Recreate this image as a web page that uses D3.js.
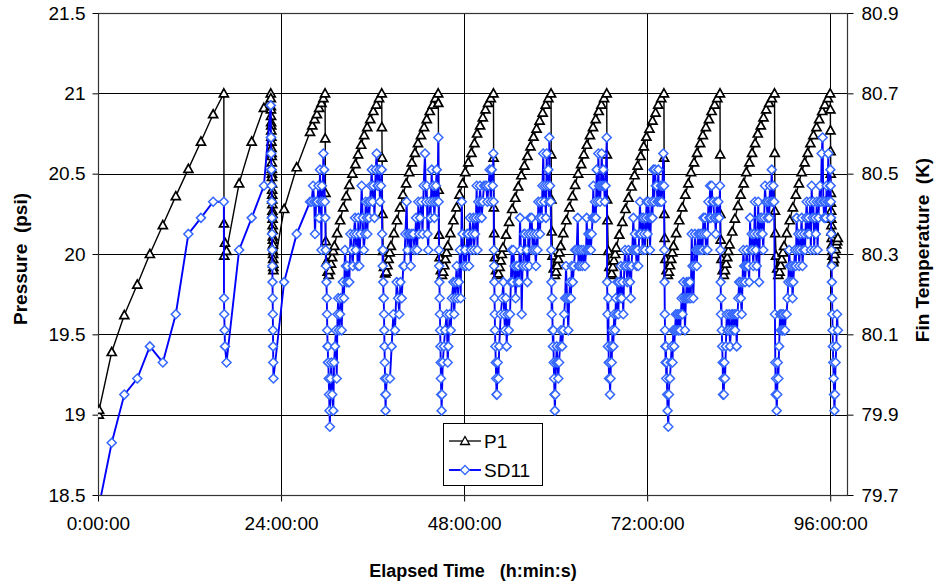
<!DOCTYPE html>
<html>
<head>
<meta charset="utf-8">
<script src="https://cdn.jsdelivr.net/npm/d3@7"></script>
<style>
  body { margin: 0; background: #fff; }
  text { font-family: "Liberation Sans", Arial, sans-serif; }
</style>
</head>
<body>
<svg id="chart" width="935" height="584"></svg>
<script>
// axis ticks
const xTicks = [0, 24, 48, 72, 96];
const xTickLabels = ["0:00:00", "24:00:00", "48:00:00", "72:00:00", "96:00:00"];
const pressureTicks = [18.5, 19, 19.5, 20, 20.5, 21, 21.5];
const tempTicks = [79.7, 79.9, 80.1, 80.3, 80.5, 80.7, 80.9];

// P1 pressure (psi), pairs of [elapsed hours, value]
const p1Run1 = [[0.1,19.0],[0.15,19.03],[1.8,19.39],[3.45,19.62],[5.15,19.81],[6.8,20.0],[8.5,20.18],[10.2,20.36],[11.85,20.53],[13.5,20.7],[15.1,20.87],[16.5,21.0]];
const p1Run2 = [[16.52,20.19],[16.55,19.99],[16.65,20.07],[16.85,20.02],[18.5,20.44],[20.15,20.7],[21.75,20.91],[22.65,21.0],
  [22.66,20.97],[22.67,20.92],[22.68,20.9],[22.69,20.86],[22.7,20.82],[22.71,20.8],[22.72,20.77],[22.73,20.73],[22.74,20.7],[22.75,20.66],[22.76,20.63],[22.77,20.61],[22.78,20.57],[22.79,20.53],[22.8,20.5],[22.81,20.48],[22.82,20.44],[22.83,20.4],[22.84,20.37],[22.85,20.34],[22.86,20.31],[22.87,20.27],[22.88,20.25],[22.89,20.22],[22.9,20.18],[22.91,20.15],[22.92,20.11],[22.93,20.09],[22.94,20.06],[22.95,20.02],[22.96,20.0],[22.97,19.97],[22.98,19.94],[22.99,19.92],[23.0,19.9]];
const p1Run3 = [[24.4,20.28],[26.05,20.54],[27.8,20.76],[28.1,20.8],[28.4,20.84],[28.7,20.87],[29.0,20.91],[29.3,20.94],[29.55,20.97],[29.77,21.0]];
const p1Run4 = [[29.79,20.72],[29.82,20.38],[29.86,20.08],[29.95,19.95],[30.1,19.89],[30.25,19.87],[30.4,19.9],[30.55,19.94],[30.7,19.98],[30.85,20.02],[31.0,20.05],
  [31.35,20.13],[31.75,20.21],[32.15,20.29],[32.55,20.36],[32.95,20.43],[33.35,20.5],[33.75,20.56],[34.1,20.62],[34.5,20.68],[34.9,20.74],[35.3,20.79],[35.7,20.84],[36.1,20.89],[36.5,20.93],[36.85,20.97],[37.2,21.0]];
const p1Run5 = [[37.22,20.79],[37.25,20.6],[37.3,20.25],[37.38,20.02],[37.5,19.92],[37.65,19.88],[37.8,19.89],[37.95,19.93],[38.1,19.97],[38.25,20.01],[38.4,20.05],
  [38.8,20.13],[39.2,20.21],[39.6,20.29],[40.0,20.37],[40.4,20.44],[40.8,20.51],[41.15,20.57],[41.55,20.63],[41.95,20.69],[42.35,20.74],[42.75,20.79],[43.1,20.84],[43.5,20.89],[43.9,20.93],[44.25,20.97],[44.6,21.0]];
const p1Run6 = [[44.62,20.94],[44.66,20.4],[44.72,20.12],[44.8,19.98],[44.95,19.9],[45.1,19.87],[45.25,19.89],[45.4,19.93],[45.55,19.97],[45.7,20.01],[45.85,20.05],
  [46.2,20.13],[46.6,20.21],[47.0,20.29],[47.4,20.37],[47.8,20.44],[48.15,20.51],[48.55,20.57],[48.95,20.63],[49.35,20.69],[49.7,20.75],[50.1,20.8],[50.45,20.85],[50.8,20.9],[51.15,20.94],[51.5,20.97],[51.85,21.0]];
const p1Run7 = [[51.87,20.6],[51.9,20.29],[51.95,20.13],[52.05,19.98],[52.2,19.9],[52.35,19.87],[52.5,19.88],[52.65,19.92],[52.8,19.96],[52.95,20.0],[53.1,20.04],
  [53.5,20.12],[53.9,20.2],[54.3,20.28],[54.7,20.35],[55.1,20.42],[55.5,20.49],[55.9,20.55],[56.3,20.61],[56.7,20.67],[57.1,20.73],[57.5,20.78],[57.9,20.83],[58.3,20.88],[58.7,20.93],[59.05,20.97],[59.4,21.0]];
const p1Run8 = [[59.42,20.62],[59.45,20.34],[59.5,20.14],[59.6,19.99],[59.75,19.91],[59.9,19.87],[60.05,19.89],[60.2,19.93],[60.35,19.97],[60.5,20.01],[60.65,20.05],
  [61.0,20.13],[61.4,20.21],[61.8,20.29],[62.2,20.36],[62.55,20.43],[62.95,20.5],[63.35,20.56],[63.7,20.62],[64.1,20.68],[64.5,20.74],[64.9,20.79],[65.25,20.84],[65.65,20.89],[66.0,20.93],[66.35,20.97],[66.7,21.0]];
const p1Run9 = [[66.72,20.62],[66.75,20.34],[66.8,20.21],[66.9,20.02],[67.05,19.92],[67.2,19.87],[67.35,19.88],[67.5,19.92],[67.65,19.96],[67.8,20.0],[67.95,20.04],
  [68.35,20.12],[68.75,20.2],[69.15,20.28],[69.55,20.35],[69.95,20.42],[70.35,20.49],[70.75,20.55],[71.15,20.61],[71.55,20.67],[71.9,20.73],[72.3,20.78],[72.7,20.83],[73.1,20.88],[73.45,20.93],[73.85,20.97],[74.2,21.0]];
const p1Run10 = [[74.22,20.6],[74.25,20.25],[74.3,20.1],[74.4,19.97],[74.55,19.9],[74.7,19.87],[74.85,19.89],[75.0,19.93],[75.15,19.97],[75.3,20.01],[75.45,20.05],
  [75.8,20.13],[76.2,20.21],[76.6,20.29],[77.0,20.37],[77.4,20.44],[77.75,20.51],[78.15,20.57],[78.55,20.63],[78.95,20.69],[79.3,20.74],[79.7,20.79],[80.1,20.84],[80.45,20.89],[80.85,20.93],[81.2,20.97],[81.55,21.0]];
const p1Run11 = [[81.57,20.62],[81.6,20.25],[81.65,20.09],[81.75,19.97],[81.9,19.9],[82.05,19.87],[82.2,19.9],[82.35,19.94],[82.5,19.98],[82.65,20.02],[82.8,20.06],
  [83.15,20.14],[83.5,20.22],[83.9,20.3],[84.25,20.37],[84.65,20.44],[85.0,20.51],[85.4,20.57],[85.75,20.63],[86.15,20.69],[86.5,20.75],[86.9,20.8],[87.25,20.85],[87.6,20.9],[88.0,20.94],[88.35,20.97],[88.7,21.0]];
const p1Run12 = [[88.72,20.63],[88.75,20.27],[88.8,20.13],[88.9,19.99],[89.05,19.91],[89.2,19.87],[89.35,19.89],[89.5,19.93],[89.65,19.97],[89.8,20.01],[89.95,20.05],
  [90.3,20.13],[90.7,20.21],[91.1,20.29],[91.5,20.37],[91.9,20.44],[92.25,20.51],[92.65,20.57],[93.05,20.63],[93.4,20.69],[93.8,20.74],[94.2,20.79],[94.55,20.84],[94.95,20.89],[95.3,20.93],[95.7,20.97],[96.0,21.0]];
const p1Run13 = [[96.02,20.9],[96.03,20.77],[96.05,20.64],[96.07,20.5],[96.09,20.38],[96.1,20.32],[96.12,20.27],[96.14,20.22],[96.16,20.18],[96.18,20.14],[96.2,20.1],[96.23,20.06],[96.26,20.02],[96.3,19.99],[96.34,19.96],[96.4,19.95],[96.5,19.97],[96.6,20.0],[96.7,20.03],[96.8,20.06],[96.9,20.08],[97.0,20.1]];

// SD11 fin temperature (K), pairs of [elapsed hours, value]
const sdRun1 = [[0.1,79.67],[1.8,79.83],[3.45,79.95],[5.15,79.99],[6.8,80.07],[8.5,80.03],[10.2,80.15],[11.85,80.35],[13.5,80.39],[15.1,80.43],[16.5,80.43]];
const sdRun2 = [[16.52,80.19],[16.55,80.15],[16.6,80.11],[16.65,80.07],[16.85,80.03],[18.5,80.31],[20.15,80.39],[21.75,80.47],[22.65,80.67],
  [22.67,80.59],[22.69,80.59],[22.7,80.55],[22.72,80.51],[22.74,80.51],[22.76,80.47],[22.78,80.43],[22.8,80.39],[22.82,80.35],[22.84,80.31],[22.86,80.27],[22.88,80.23],[22.9,80.19],[22.92,80.15],[22.94,80.11],[22.96,80.07],[22.98,80.03],[23.0,79.99]];
const sdRun3 = [[24.4,80.23],[26.05,80.35],[27.8,80.43],[28.0,80.43],[28.2,80.47],[28.35,80.43],[28.45,80.35],[28.6,80.43],[28.75,80.43],[28.9,80.47],[29.0,80.39],[29.1,80.51],[29.2,80.43],[29.3,80.31],[29.35,80.47],[29.45,80.43],[29.55,80.55],[29.65,80.51],[29.75,80.43]];
const sdRun4 = [[29.8,80.39],[29.85,80.31],[29.9,80.27],[29.95,80.23],[30.0,80.19],[30.03,80.15],[30.06,80.11],[30.1,80.07],[30.13,80.07],[30.16,80.03],[30.2,80.03],[30.25,79.99],[30.3,79.95],[30.35,79.91],[30.4,79.87],[30.5,79.99],[30.6,80.03],[30.7,79.95],[30.85,79.91],[30.95,80.03],[31.07,80.07],[31.2,80.11],[31.3,79.99],[31.4,80.15],[31.5,80.19],[31.6,80.11],[31.73,80.15],[31.85,80.19],[31.95,80.11],[32.1,80.23],[32.25,80.19],[32.38,80.31],[32.5,80.27],[32.61,80.23],[32.7,80.27],[32.82,80.23],[32.95,80.23],[33.1,80.35],[33.26,80.31],[33.4,80.27],[33.55,80.35],[33.7,80.39],[33.8,80.31],[33.92,80.35],[34.05,80.27],[34.13,80.39],[34.26,80.27],[34.4,80.35],[34.57,80.47],[34.7,80.39],[34.85,80.31],[35.0,80.35],[35.1,80.43],[35.23,80.39],[35.31,80.35],[35.45,80.43],[35.55,80.39],[35.66,80.43],[35.78,80.47],[35.89,80.51],[36.0,80.43],[36.1,80.47],[36.25,80.39],[36.4,80.51],[36.54,80.55],[36.65,80.47],[36.75,80.47],[36.85,80.51],[36.97,80.43],[37.1,80.47],[37.2,80.51]];
const sdRun5 = [[37.25,80.35],[37.3,80.31],[37.33,80.27],[37.36,80.31],[37.4,80.23],[37.43,80.19],[37.46,80.19],[37.5,80.15],[37.53,80.11],[37.56,80.07],[37.6,80.03],[37.63,79.99],[37.67,79.95],[37.7,79.91],[37.75,79.95],[37.85,79.99],
  [38.28,79.99],[38.5,80.07],[38.72,80.15],[38.94,80.11],[39.16,80.23],[39.35,80.19],[39.5,80.15],[39.65,80.23],[39.82,80.19],[40.03,80.27],[40.15,80.27],[40.3,80.35],[40.47,80.43],[40.58,80.31],[40.68,80.35],[40.85,80.35],[41.0,80.27],[41.15,80.35],[41.34,80.35],[41.5,80.31],[41.7,80.39],[41.85,80.31],[42.0,80.43],[42.1,80.35],[42.22,80.39],[42.4,80.43],[42.55,80.35],[42.7,80.47],[42.87,80.55],[43.0,80.43],[43.1,80.47],[43.2,80.35],[43.3,80.31],[43.45,80.43],[43.6,80.39],[43.75,80.51],[43.85,80.43],[43.96,80.47],[44.1,80.39],[44.19,80.43],[44.3,80.47],[44.41,80.51],[44.5,80.43],[44.62,80.59]];
const sdRun6 = [[44.66,80.43],[44.7,80.31],[44.73,80.27],[44.76,80.23],[44.8,80.19],[44.83,80.15],[44.86,80.11],[44.9,80.07],[44.93,80.03],[44.96,79.99],[45.0,79.95],[45.05,79.91],[45.1,79.95],[45.2,80.03],
  [45.35,80.07],[45.5,80.11],[45.72,80.15],[45.85,80.03],[45.93,80.07],[46.1,80.15],[46.25,80.11],[46.4,80.19],[46.59,80.23],[46.7,80.15],[46.8,80.19],[46.9,80.23],[47.03,80.27],[47.15,80.19],[47.3,80.23],[47.45,80.31],[47.55,80.19],[47.69,80.43],[47.8,80.35],[47.95,80.27],[48.12,80.31],[48.25,80.27],[48.4,80.35],[48.55,80.35],[48.65,80.27],[48.77,80.39],[48.9,80.31],[49.05,80.35],[49.21,80.39],[49.3,80.31],[49.43,80.35],[49.55,80.39],[49.65,80.47],[49.75,80.31],[49.86,80.43],[49.97,80.39],[50.08,80.47],[50.2,80.43],[50.31,80.39],[50.45,80.43],[50.6,80.47],[50.75,80.47],[50.9,80.47],[51.05,80.43],[51.2,80.47],[51.35,80.51],[51.5,80.43],[51.62,80.51],[51.75,80.47],[51.83,80.55]];
const sdRun7 = [[51.88,80.43],[51.9,80.31],[51.93,80.27],[51.96,80.23],[51.99,80.19],[52.02,80.15],[52.05,80.11],[52.1,80.07],[52.15,80.03],[52.2,79.99],[52.25,79.95],[52.3,79.95],[52.4,80.03],[52.5,79.99],[52.6,80.07],
  [52.8,80.15],[53.0,80.19],[53.14,80.23],[53.25,80.15],[53.36,80.11],[53.47,80.19],[53.58,80.07],[53.7,80.15],[53.85,80.11],[54.02,80.15],[54.13,80.23],[54.24,80.31],[54.35,80.23],[54.45,80.31],[54.6,80.27],[54.75,80.19],[54.9,80.27],[55.0,80.23],[55.1,80.27],[55.2,80.23],[55.33,80.39],[55.44,80.31],[55.55,80.15],[55.66,80.27],[55.76,80.27],[55.87,80.35],[55.98,80.35],[56.1,80.27],[56.2,80.31],[56.3,80.23],[56.42,80.35],[56.53,80.27],[56.64,80.39],[56.75,80.35],[56.86,80.39],[57.0,80.31],[57.15,80.35],[57.3,80.31],[57.42,80.27],[57.52,80.35],[57.62,80.31],[57.73,80.43],[57.85,80.39],[57.95,80.35],[58.06,80.43],[58.17,80.39],[58.27,80.47],[58.38,80.55],[58.5,80.43],[58.6,80.47],[58.72,80.39],[58.83,80.55],[58.93,80.47],[59.04,80.51],[59.12,80.43],[59.17,80.59],[59.26,80.47],[59.35,80.43]];
const sdRun8 = [[59.42,80.31],[59.45,80.23],[59.48,80.15],[59.55,80.19],[59.6,80.11],[59.65,80.07],[59.7,80.11],[59.75,80.03],[59.8,79.99],[59.85,79.95],[59.9,79.91],[59.95,79.95],[60.05,80.03],[60.14,80.07],[60.25,80.03],[60.35,79.99],[60.45,80.03],[60.57,80.07],[60.7,80.11],[60.85,80.07],[61.0,80.11],[61.12,80.15],[61.25,80.19],[61.36,80.27],[61.5,80.19],[61.66,80.11],[61.78,80.19],[61.89,80.23],[62.0,80.19],[62.11,80.27],[62.25,80.23],[62.4,80.27],[62.55,80.31],[62.76,80.31],[62.9,80.39],[63.0,80.27],[63.1,80.31],[63.2,80.27],[63.35,80.31],[63.5,80.27],[63.65,80.31],[63.85,80.27],
  [64.0,80.31],[64.07,80.39],[64.2,80.31],[64.29,80.35],[64.4,80.31],[64.5,80.35],[64.62,80.31],[64.73,80.35],[64.85,80.39],[64.94,80.47],[65.05,80.39],[65.16,80.43],[65.27,80.39],[65.38,80.51],[65.5,80.43],[65.6,80.55],[65.7,80.47],[65.82,80.43],[65.93,80.47],[66.04,80.55],[66.15,80.47],[66.25,80.51],[66.35,80.47],[66.45,80.43],[66.55,80.47],[66.7,80.59]];
const sdRun9 = [[66.75,80.23],[66.8,80.15],[66.85,80.07],[66.91,80.19],[66.96,80.03],[67.0,79.99],[67.05,80.03],[67.13,79.95],[67.2,79.99],[67.28,80.07],[67.35,80.03],[67.45,80.11],[67.56,80.07],[67.68,80.15],[67.79,80.11],[67.9,80.19],[68.0,80.15],[68.1,80.23],[68.22,80.15],[68.33,80.23],[68.44,80.19],[68.55,80.27],[68.65,80.19],[68.76,80.23],[68.87,80.15],[69.0,80.27],[69.1,80.31],[69.25,80.27],[69.4,80.23],[69.55,80.31],[69.65,80.27],[69.75,80.23],[69.85,80.19],[69.95,80.27],[70.05,80.31],[70.19,80.39],[70.3,80.31],[70.4,80.35],[70.52,80.31],[70.62,80.27],[70.74,80.31],[70.84,80.27],[70.95,80.35],[71.06,80.43],[71.17,80.35],[71.29,80.39],[71.4,80.31],[71.5,80.39],[71.62,80.35],[71.73,80.31],[71.84,80.39],[71.94,80.43],[72.05,80.35],[72.15,80.43],[72.26,80.39],[72.37,80.31],[72.5,80.39],[72.6,80.43],[72.7,80.39],[72.81,80.51],[72.92,80.43],[73.03,80.51],[73.14,80.47],[73.25,80.47],[73.35,80.43],[73.46,80.51],[73.58,80.43],[73.69,80.43],[73.8,80.47],[73.9,80.43],[74.0,80.47],[74.12,80.55],[74.22,80.47]];
const sdRun10 = [[74.25,80.31],[74.28,80.23],[74.31,80.15],[74.34,80.11],[74.38,80.07],[74.42,80.03],[74.46,80.07],[74.5,79.99],[74.56,80.03],[74.62,79.95],[74.68,79.91],[74.77,79.87],[74.85,79.95],[74.92,79.99],[74.99,79.99],[75.1,80.03],[75.21,80.07],[75.32,80.03],[75.42,80.11],[75.55,80.07],[75.65,80.11],[75.76,80.15],[75.87,80.11],[75.98,80.15],[76.1,80.11],[76.2,80.15],[76.32,80.11],[76.42,80.15],[76.52,80.19],[76.63,80.15],[76.74,80.23],[76.85,80.19],[76.96,80.11],[77.08,80.19],[77.19,80.23],[77.3,80.19],[77.4,80.23],[77.5,80.19],[77.6,80.23],[77.72,80.19],[77.84,80.35],[77.94,80.27],[78.05,80.19],[78.16,80.27],[78.27,80.35],[78.38,80.31],[78.5,80.27],[78.6,80.31],[78.71,80.35],[78.82,80.31],[78.93,80.35],[79.04,80.31],[79.15,80.35],[79.26,80.31],[79.37,80.39],[79.48,80.35],[79.59,80.39],[79.7,80.31],[79.8,80.35],[79.9,80.31],[80.03,80.43],[80.14,80.39],[80.25,80.47],[80.36,80.39],[80.47,80.47],[80.57,80.43],[80.68,80.43],[80.79,80.39],[80.9,80.39],[81.0,80.35],[81.11,80.43],[81.22,80.39],[81.33,80.43],[81.44,80.39],[81.55,80.47]];
const sdRun11 = [[81.6,80.31],[81.64,80.23],[81.68,80.15],[81.72,80.19],[81.78,80.11],[81.84,80.07],[81.9,80.03],[81.95,79.95],[81.99,79.99],[82.05,79.95],[82.12,80.03],[82.21,79.99],[82.32,80.07],[82.43,80.15],[82.54,80.11],[82.64,80.11],[82.75,80.15],[82.86,80.07],[82.98,80.11],[83.09,80.15],[83.2,80.15],[83.32,80.11],[83.42,80.15],[83.53,80.11],[83.64,80.15],[83.74,80.07],[83.85,80.15],[83.95,80.19],[84.06,80.23],[84.17,80.23],[84.28,80.19],[84.4,80.15],[84.5,80.23],[84.61,80.31],[84.72,80.27],[84.83,80.23],[84.94,80.27],[85.05,80.31],[85.16,80.27],[85.27,80.27],[85.38,80.23],[85.49,80.39],[85.6,80.31],[85.7,80.35],[85.82,80.31],[85.92,80.27],[86.03,80.35],[86.14,80.43],[86.25,80.31],[86.36,80.27],[86.47,80.35],[86.57,80.43],[86.68,80.23],[86.8,80.39],[86.9,80.35],[87.01,80.39],[87.12,80.35],[87.23,80.31],[87.34,80.39],[87.45,80.47],[87.56,80.43],[87.67,80.43],[87.78,80.39],[87.89,80.43],[88.0,80.39],[88.1,80.47],[88.22,80.43],[88.33,80.51],[88.44,80.43],[88.54,80.47],[88.65,80.43]];
const sdRun12 = [[88.75,80.15],[88.8,80.03],[88.85,79.95],[88.9,79.99],[88.98,79.91],[89.05,79.95],[89.12,80.03],[89.2,79.99],[89.3,80.07],[89.42,80.15],[89.53,80.11],[89.63,80.15],[89.74,80.11],[89.85,80.15],[89.96,80.11],[90.07,80.11],[90.18,80.15],[90.29,80.15],[90.4,80.19],[90.51,80.23],[90.62,80.31],[90.73,80.27],[90.84,80.23],[90.95,80.27],[91.06,80.19],[91.16,80.23],[91.27,80.27],[91.38,80.31],[91.49,80.27],[91.6,80.39],[91.71,80.31],[91.82,80.35],[91.93,80.27],[92.04,80.31],[92.15,80.35],[92.26,80.39],[92.36,80.27],[92.47,80.31],[92.58,80.35],[92.7,80.31],[92.81,80.39],[92.92,80.43],[93.03,80.35],[93.14,80.39],[93.25,80.35],[93.35,80.43],[93.46,80.31],[93.57,80.47],[93.68,80.39],[93.79,80.43],[93.9,80.31],[94.0,80.39],[94.12,80.35],[94.23,80.43],[94.34,80.31],[94.45,80.39],[94.55,80.43],[94.66,80.47],[94.77,80.43],[94.88,80.55],[95.0,80.59],[95.1,80.43],[95.2,80.39],[95.31,80.43],[95.42,80.39],[95.53,80.47],[95.64,80.43],[95.75,80.55],[95.86,80.43],[95.98,80.47]];
const sdRun13 = [[96.02,80.51],[96.05,80.47],[96.08,80.43],[96.1,80.39],[96.13,80.35],[96.16,80.31],[96.19,80.27],[96.22,80.23],[96.25,80.19],[96.28,80.15],[96.31,80.11],[96.35,80.07],[96.4,80.03],[96.45,79.99],[96.5,79.95],[96.55,79.91],[96.62,79.95],[96.7,80.03],[96.8,80.07],[96.9,80.15],[97.0,80.11]];

const p1Data = [].concat(p1Run1, p1Run2, p1Run3, p1Run4, p1Run5, p1Run6, p1Run7, p1Run8, p1Run9, p1Run10, p1Run11, p1Run12, p1Run13);
const sd11Data = [].concat(sdRun1, sdRun2, sdRun3, sdRun4, sdRun5, sdRun6, sdRun7, sdRun8, sdRun9, sdRun10, sdRun11, sdRun12, sdRun13);

const svg = d3.select("#chart");
const plotLeft = 98, plotRight = 847, plotTop = 13, plotBottom = 495;

const x = d3.scaleLinear().domain([0, 98.2]).range([plotLeft, plotRight]);
const yP = d3.scaleLinear().domain([18.5, 21.5]).range([plotBottom, plotTop]);
const yT = d3.scaleLinear().domain([79.7, 80.9]).range([plotBottom, plotTop]);

const crisp = v => Math.round(v) + 0.5;

svg.append("rect").attr("width", 935).attr("height", 584).attr("fill", "#fff");

// gridlines
const grid = svg.append("g").attr("stroke", "#000").attr("stroke-width", 1);
grid.selectAll("line.h").data(pressureTicks.slice(1, -1)).join("line")
    .attr("x1", plotLeft).attr("x2", plotRight)
    .attr("y1", d => crisp(yP(d))).attr("y2", d => crisp(yP(d)));
grid.selectAll("line.v").data(xTicks.slice(1)).join("line")
    .attr("y1", plotTop).attr("y2", plotBottom)
    .attr("x1", d => crisp(x(d))).attr("x2", d => crisp(x(d)));

// axes
const tickFont = g => {
    g.select(".domain").remove();
    g.selectAll(".tick line").attr("stroke", "#000");
    g.selectAll("text").attr("font-size", 19).attr("fill", "#000")
        .attr("font-family", '"Liberation Sans", Arial, sans-serif');
};

svg.append("g").attr("transform", `translate(${crisp(plotLeft)},0)`)
    .call(d3.axisLeft(yP).tickValues(pressureTicks).tickSize(6).tickPadding(7).tickFormat(d => String(d)))
    .call(tickFont);

svg.append("g").attr("transform", `translate(${crisp(plotRight)},0)`)
    .call(d3.axisRight(yT).tickValues(tempTicks).tickSize(6).tickPadding(8).tickFormat(d3.format(".1f")))
    .call(tickFont);

svg.append("g").attr("transform", `translate(0,${crisp(plotBottom)})`)
    .call(d3.axisBottom(x).tickValues(xTicks).tickSize(6).tickPadding(15).tickFormat((d, i) => xTickLabels[i]))
    .call(tickFont);

// plot frame
svg.append("rect")
    .attr("x", crisp(plotLeft)).attr("y", crisp(plotTop))
    .attr("width", Math.round(plotRight) - Math.round(plotLeft)).attr("height", Math.round(plotBottom) - Math.round(plotTop))
    .attr("fill", "none").attr("stroke", "#333").attr("stroke-width", 1.2);

// data
svg.append("clipPath").attr("id", "plotClip").append("rect")
    .attr("x", plotLeft).attr("y", plotTop).attr("width", plotRight - plotLeft).attr("height", plotBottom - plotTop);
const plot = svg.append("g").attr("clip-path", "url(#plotClip)");

const triPath = "M0,-4.5L4.5,3.5L-4.5,3.5Z";
const diamondPath = "M0,-4.5L4.5,0L0,4.5L-4.5,0Z";

plot.append("path").datum(p1Data)
    .attr("fill", "none").attr("stroke", "#000").attr("stroke-width", 1.4)
    .attr("d", d3.line().x(d => x(d[0])).y(d => yP(d[1])));
plot.append("g").selectAll("path").data(p1Data).join("path")
    .attr("d", triPath)
    .attr("transform", d => `translate(${x(d[0])},${yP(d[1])})`)
    .attr("fill", "#fff").attr("stroke", "#000").attr("stroke-width", 1.7);

plot.append("path").datum(sd11Data)
    .attr("fill", "none").attr("stroke", "#0000ff").attr("stroke-width", 1.9)
    .attr("d", d3.line().x(d => x(d[0])).y(d => yT(d[1])));
plot.append("g").selectAll("path").data(sd11Data).join("path")
    .attr("d", diamondPath)
    .attr("transform", d => `translate(${x(d[0])},${yT(d[1])})`)
    .attr("fill", "#fff").attr("stroke", "#3366ff").attr("stroke-width", 1.5);

// axis titles
svg.append("text")
    .attr("transform", "translate(27,259) rotate(-90)")
    .attr("text-anchor", "middle").attr("font-size", 19).attr("font-weight", "bold")
    .style("white-space", "pre")
    .text("Pressure  (psi)");

svg.append("text")
    .attr("transform", "translate(929,250) rotate(-90)")
    .attr("text-anchor", "middle").attr("font-size", 19).attr("font-weight", "bold")
    .style("white-space", "pre")
    .text("Fin Temperature  (K)");

svg.append("text")
    .attr("x", 473).attr("y", 577)
    .attr("text-anchor", "middle").attr("font-size", 18).attr("font-weight", "bold")
    .style("white-space", "pre")
    .text("Elapsed Time   (h:min:s)");

// legend
const legend = svg.append("g");
legend.append("rect").attr("x", 443.5).attr("y", 423.5).attr("width", 99).attr("height", 62)
    .attr("fill", "#fff").attr("stroke", "#000").attr("stroke-width", 1);
const legendItems = [
    { name: "P1", y: 441, line: "#000", mark: "#000", shape: triPath, width: 1.3 },
    { name: "SD11", y: 470, line: "#0000ff", mark: "#3366ff", shape: diamondPath, width: 1.9 }
];
legendItems.forEach(item => {
    legend.append("line").attr("x1", 449).attr("x2", 481).attr("y1", item.y).attr("y2", item.y)
        .attr("stroke", item.line).attr("stroke-width", item.width);
    legend.append("path").attr("d", item.shape)
        .attr("transform", `translate(465,${item.y})`)
        .attr("fill", "#fff").attr("stroke", item.mark).attr("stroke-width", 1.3);
    legend.append("text").attr("x", 484).attr("y", item.y + 7)
        .attr("font-size", 19).attr("fill", "#000").text(item.name);
});
</script>
</body>
</html>
